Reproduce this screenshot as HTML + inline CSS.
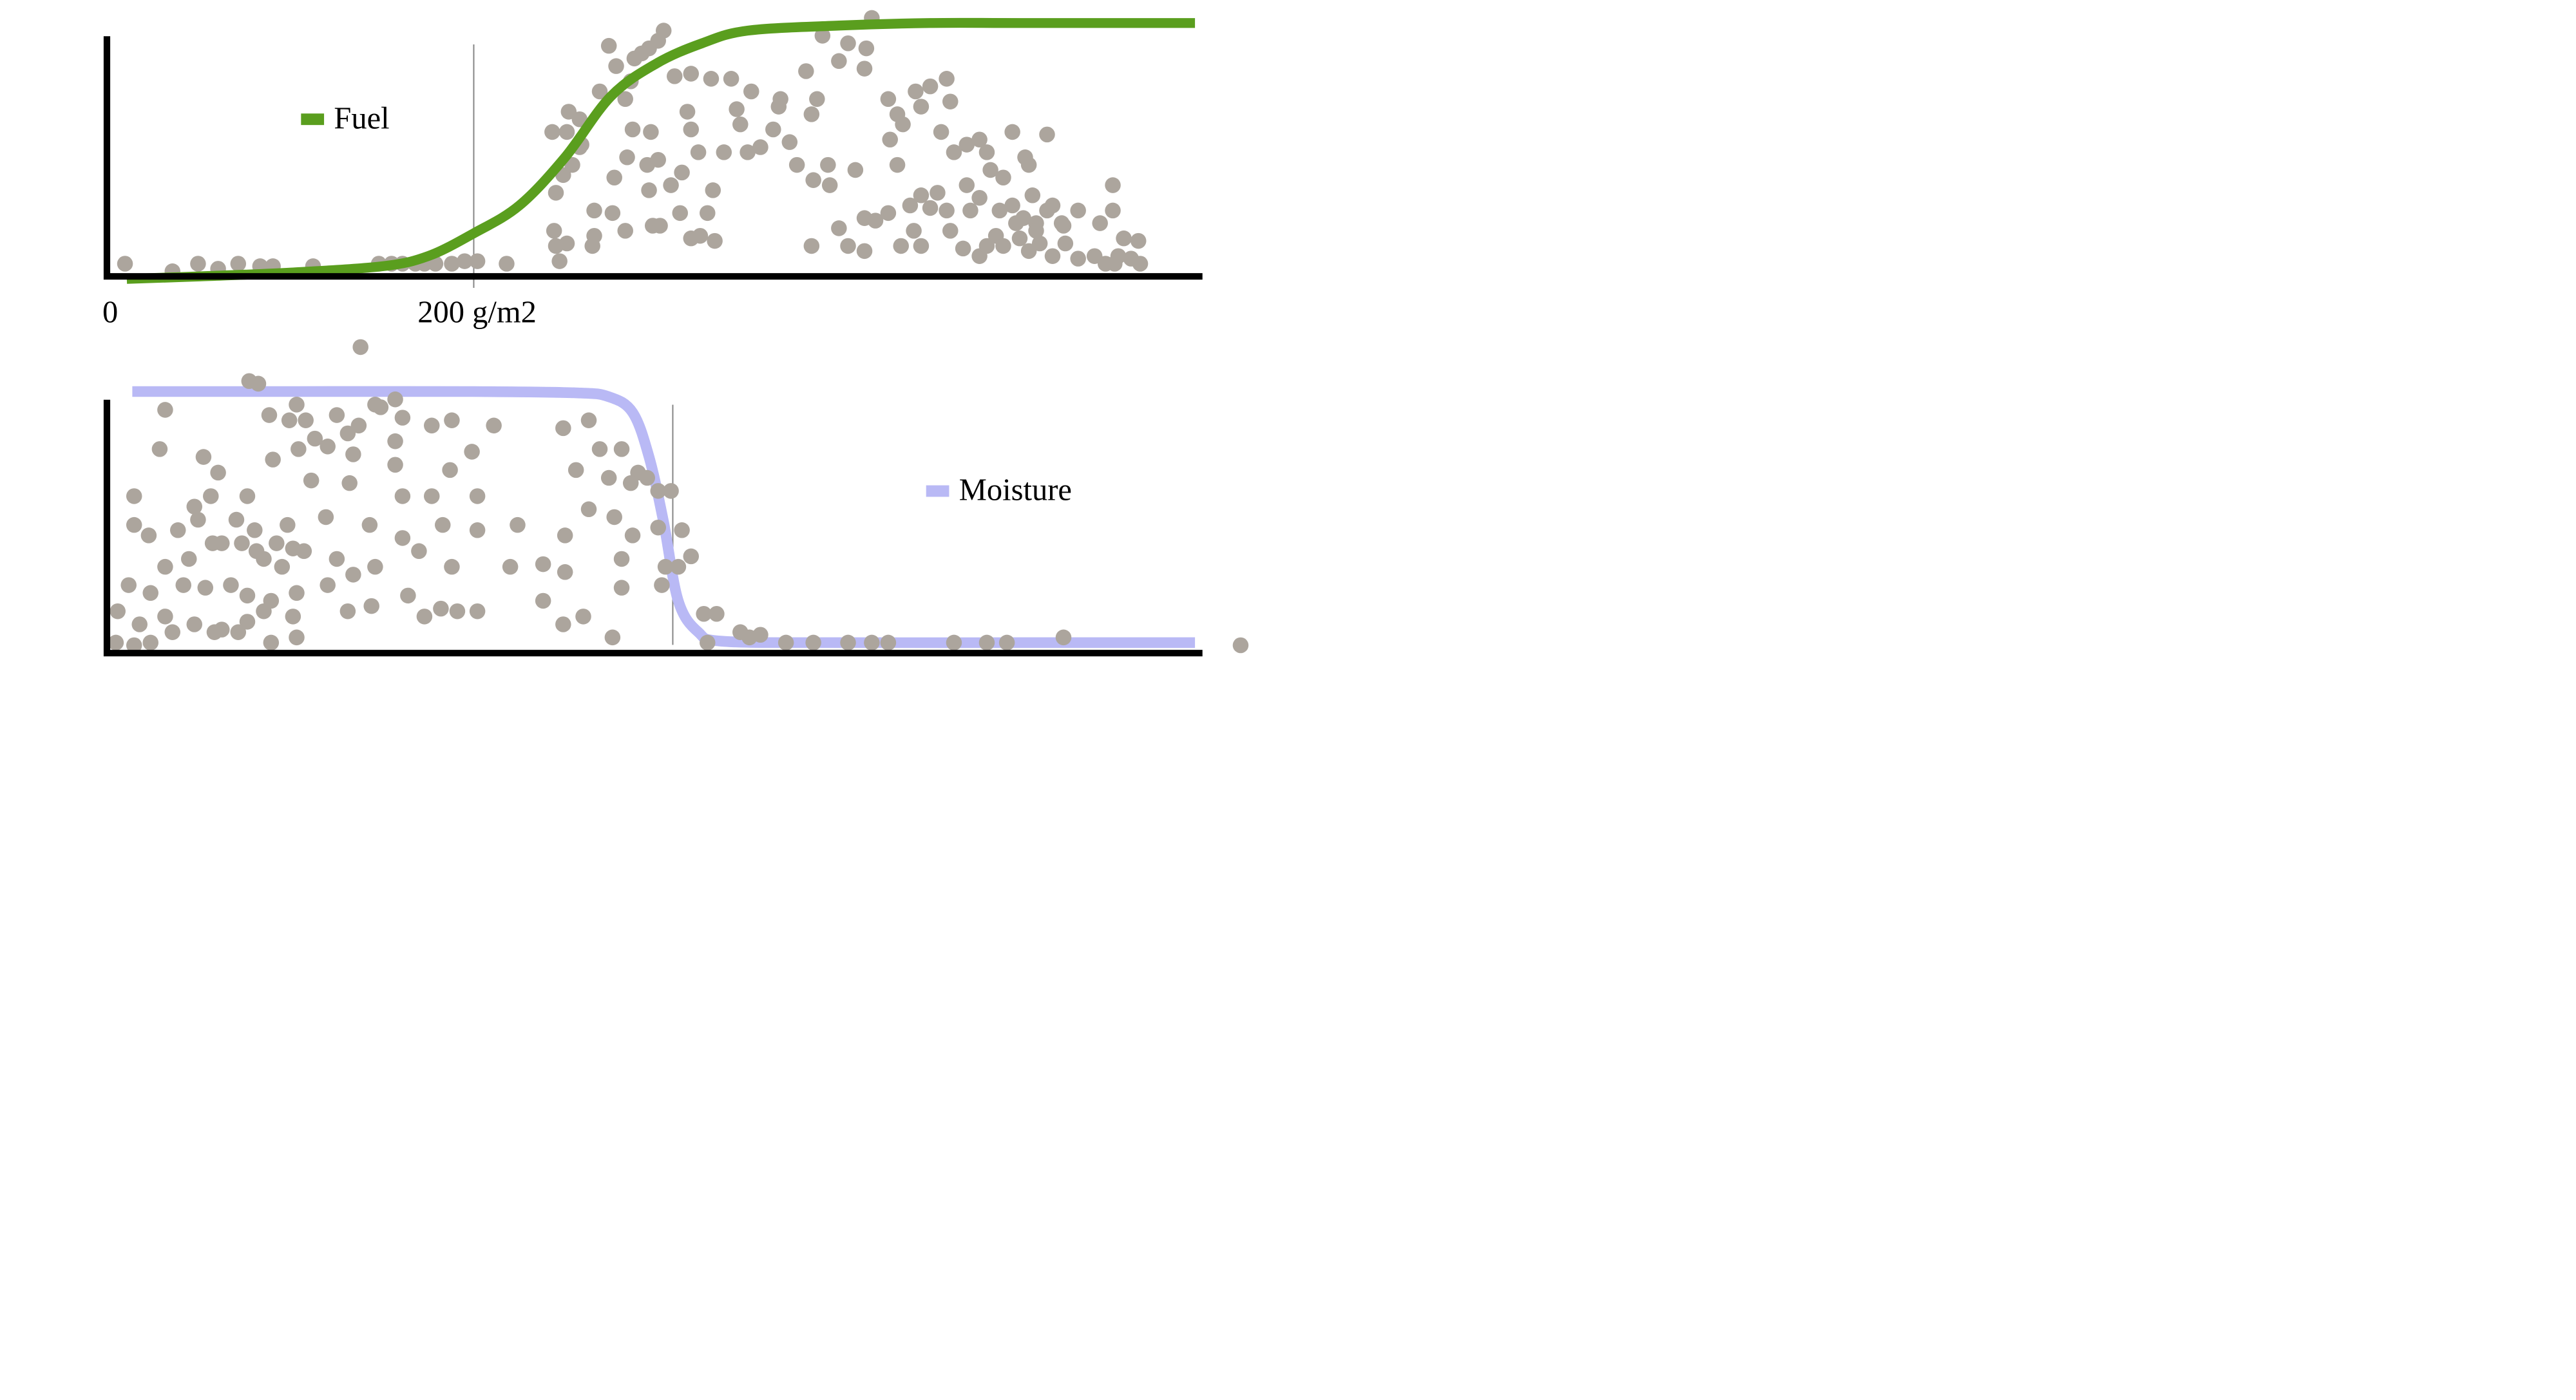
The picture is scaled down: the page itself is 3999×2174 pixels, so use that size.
<!DOCTYPE html>
<html><head><meta charset="utf-8"><style>
html,body{margin:0;padding:0;background:#fff;width:3999px;height:2174px;overflow:hidden}
svg{display:block}
text{font-family:"Liberation Serif",serif;font-size:19px;fill:#000}
</style></head><body>
<svg id="chart" width="3999" height="2174" viewBox="0 0 1566 851" preserveAspectRatio="none" xmlns="http://www.w3.org/2000/svg">
<g id="topPanel"></g>
<g id="botPanel"></g>
</svg>
<script>
// ---- data ----
const xTickValues = [0, 200];
const xTickLabels = ["0", "200 g/m2"];
const fuelCurveX = [10,50,100,150,175,200,225,250,275,300,325,350,400,450,500,595];
const fuelCurveY = [-1,0,1.5,4,8,17,28,47,71,84,92,97,99,100,100,100];
const fuelPointsX = [9,35,49,60,71,83,90,112,148,155,161,168,173,179,188,195,202,218,247,244,251,266,266,245,249,254,259,243,252,251,258,269,274,278,283,286,288,292,296,301,304,295,284,287,297,277,296,298,302,308,313,317,314,319,323,324,328,331,332,310,319,330,341,352,346,344,337,350,357,364,367,373,368,382,385,388,386,394,395,391,400,405,414,418,415,427,432,435,428,432,442,445,450,459,461,456,463,470,477,481,483,490,495,502,504,514,495,506,517,523,531,543,550,550,556,564,553,560,385,400,405,414,414,420,427,434,441,445,450,454,461,468,472,477,481,486,490,499,504,510,517,524,531,540,546,551,565,445,477,488,497,508,501,470,459,439,409,377,301,319,283,276,258,245,265,508,514,522];
const fuelPointsY = [5,2,5,3,5,4,4,4,5,5,5,5,5,5,5,6,6,5,6,18,13,16,26,33,40,44,52,57,65,57,62,73,91,83,70,77,86,88,90,93,97,44,47,58,57,39,34,20,20,36,25,65,41,58,49,16,25,34,14,79,80,78,78,73,60,66,49,49,51,58,67,53,70,81,64,70,38,44,36,95,85,92,82,102,90,70,64,60,54,44,73,67,75,78,69,57,49,52,54,49,42,39,57,47,44,56,28,32,28,20,26,21,36,26,15,14,8,7,12,19,12,10,23,22,25,12,18,12,27,33,18,11,26,8,12,16,12,15,10,13,8,13,7,8,5,5,5,32,31,26,21,21,23,36,26,28,42,44,46,15,18,25,51,12,12,18,26,21];
const moistCurveX = [13,100,200,256,274,287,296,304,312,323,337,400,500,595];
const moistCurveY = [100,100,100,99.5,98,92,75,50,20,8,4.5,4,4,4];
const moistPointsX = [138,77,82,103,149,157,146,31,88,99,108,125,137,161,177,188,211,113,120,131,157,199,249,263,269,281,28,52,60,90,104,134,157,187,256,274,290,14,76,111,132,161,177,202,263,286,295,301,308,22,38,49,62,80,98,119,143,161,183,202,224,250,277,287,301,314,14,31,44,57,73,85,95,107,125,146,170,188,220,238,250,281,305,319,11,23,41,53,67,76,89,103,120,134,164,182,202,238,281,303,312,5,17,31,47,62,76,85,101,131,144,173,191,249,260,276,326,333,4,14,23,35,58,71,89,103,328,346,351,357,371,386,405,418,427,463,481,492,523,620,81,92,101,70,47,56];
const moistPointsY = [117,104,103,95,94,97,95,93,91,89,89,91,87,90,87,89,87,82,79,84,81,77,86,89,78,78,78,75,69,74,78,76,72,70,70,67,69,60,60,66,65,60,60,60,55,65,67,62,62,45,47,51,42,47,49,52,49,44,49,47,49,45,52,45,48,47,49,33,36,42,42,36,33,39,36,33,39,33,33,34,31,36,33,37,26,23,26,25,26,22,20,23,26,30,22,17,16,20,25,26,33,16,11,14,11,9,12,16,14,16,18,14,16,11,14,6,15,15,4,3,4,8,8,8,4,6,4,8,6,7,4,4,4,4,4,4,4,4,6,3,39,42,40,51,56,60];

// ---- scales ----
const X0 = 66, XK = 1.11;
const sx = v => X0 + v * XK;
const syTop = v => 168 - v * 1.54;
const syBot = v => 397 - v * 1.59;
const NS = "http://www.w3.org/2000/svg";
function mk(tag, parent, attrs) {
  const e = document.createElementNS(NS, tag);
  for (const k in attrs) e.setAttribute(k, attrs[k]);
  parent.appendChild(e);
  return e;
}
function smoothPath(xs, ys, fy) {
  const p = xs.map((x, i) => [sx(x), fy(ys[i])]);
  let d = "M" + p[0][0] + "," + p[0][1];
  for (let i = 0; i < p.length - 1; i++) {
    const p0 = p[i - 1] || p[i], p1 = p[i], p2 = p[i + 1], p3 = p[i + 2] || p2;
    const c1 = [p1[0] + (p2[0] - p0[0]) / 6, p1[1] + (p2[1] - p0[1]) / 6];
    const c2 = [p2[0] - (p3[0] - p1[0]) / 6, p2[1] - (p3[1] - p1[1]) / 6];
    d += " C" + c1 + " " + c2 + " " + p2;
  }
  return d;
}
const topG = document.getElementById("topPanel");
const botG = document.getElementById("botPanel");

// top panel
let e;
e = mk("line", topG, {x1: sx(200), y1: 27, x2: sx(200), y2: 175, stroke: "#888", "stroke-width": 0.8});


fuelPointsX.forEach((x, i) => {
  const c = mk("circle", topG, {cx: sx(x), cy: syTop(fuelPointsY[i]), r: 4.8, fill: "#aca59d"});
  
  
});
e = mk("path", topG, {d: smoothPath(fuelCurveX, fuelCurveY, syTop), fill: "none", stroke: "#5a9e1e", "stroke-width": 6});


e = mk("path", topG, {d: "M65,22 V168 H731", fill: "none", stroke: "#000", "stroke-width": 4});


xTickValues.forEach((v, i) => {
  const t = mk("text", topG, {x: sx(v) + (i === 0 ? 1 : 2), y: 196, "text-anchor": "middle"});
  t.textContent = xTickLabels[i];
  
  
});
e = mk("rect", topG, {x: 183, y: 69, width: 14, height: 7, fill: "#5a9e1e"});


e = mk("text", topG, {x: 203, y: 78});
e.textContent = "Fuel";



// bottom panel
e = mk("line", botG, {x1: 409, y1: 246, x2: 409, y2: 392, stroke: "#888", "stroke-width": 0.8});


e = mk("path", botG, {d: smoothPath(moistCurveX, moistCurveY, syBot), fill: "none", stroke: "#b9b9f5", "stroke-width": 6.5});


moistPointsX.forEach((x, i) => {
  const c = mk("circle", botG, {cx: sx(x), cy: syBot(moistPointsY[i]), r: 4.8, fill: "#aca59d"});
  
  
});
e = mk("path", botG, {d: "M65,243 V397 H731", fill: "none", stroke: "#000", "stroke-width": 4});


e = mk("rect", botG, {x: 563, y: 295, width: 14, height: 7, fill: "#b9b9f5"});


e = mk("text", botG, {x: 583, y: 304});
e.textContent = "Moisture";


</script>
</body></html>
